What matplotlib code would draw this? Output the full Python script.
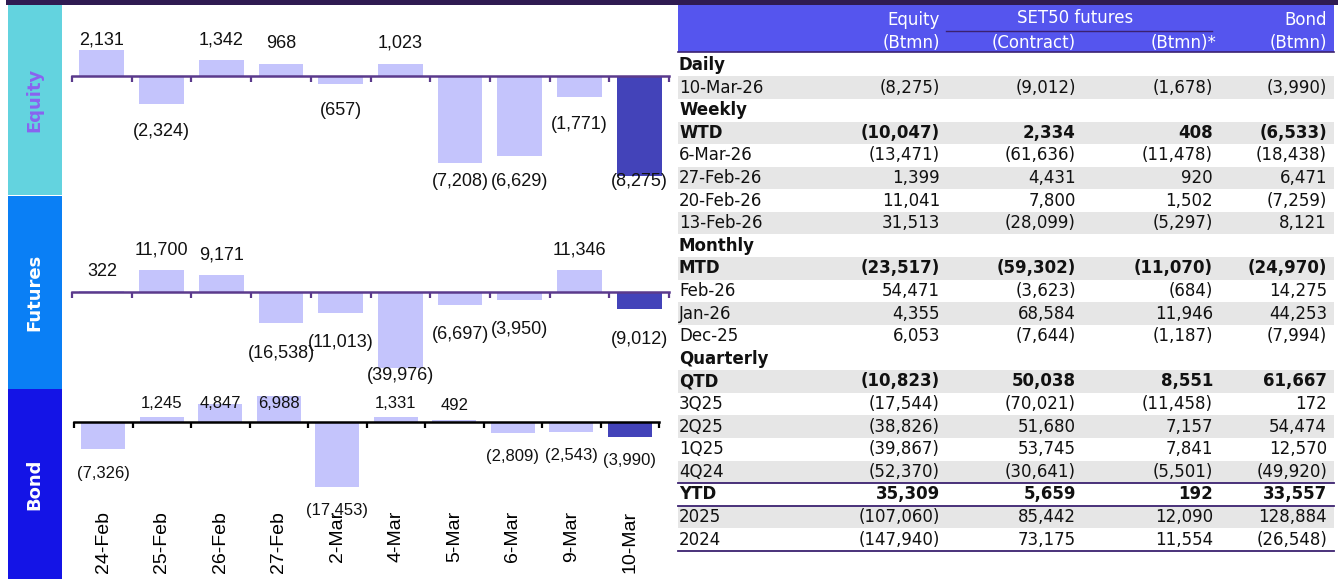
import matplotlib
matplotlib.use("Agg")
import matplotlib.pyplot as plt
from matplotlib.patches import Rectangle

# daily flows shown in the three bar panels
dates = ["24-Feb", "25-Feb", "26-Feb", "27-Feb", "2-Mar", "4-Mar", "5-Mar", "6-Mar", "9-Mar", "10-Mar"]
equity = [2131, -2324, 1342, 968, -657, 1023, -7208, -6629, -1771, -8275]
futures = [322, 11700, 9171, -16538, -11013, -39976, -6697, -3950, 11346, -9012]
bond = [-7326, 1245, 4847, 6988, -17453, 1331, 492, -2809, -2543, -3990]

# summary table
tbl_labels = ["Daily", "10-Mar-26", "Weekly", "WTD", "6-Mar-26", "27-Feb-26", "20-Feb-26", "13-Feb-26",
              "Monthly", "MTD", "Feb-26", "Jan-26", "Dec-25", "Quarterly", "QTD", "3Q25", "2Q25",
              "1Q25", "4Q24", "YTD", "2025", "2024"]
tbl_equity = [None, -8275, None, -10047, -13471, 1399, 11041, 31513, None, -23517, 54471, 4355, 6053,
              None, -10823, -17544, -38826, -39867, -52370, 35309, -107060, -147940]
tbl_contract = [None, -9012, None, 2334, -61636, 4431, 7800, -28099, None, -59302, -3623, 68584, -7644,
                None, 50038, -70021, 51680, 53745, -30641, 5659, 85442, 73175]
tbl_btmn = [None, -1678, None, 408, -11478, 920, 1502, -5297, None, -11070, -684, 11946, -1187,
            None, 8551, -11458, 7157, 7841, -5501, 192, 12090, 11554]
tbl_bond = [None, -3990, None, -6533, -18438, 6471, -7259, 8121, None, -24970, 14275, 44253, -7994,
            None, 61667, 172, 54474, 12570, -49920, 33557, 128884, -26548]
bold_rows = {"Daily", "Weekly", "Monthly", "Quarterly", "WTD", "MTD", "QTD", "YTD"}
shaded_rows = {1, 3, 5, 7, 9, 11, 14, 16, 18, 20}

W, H = 1338, 579
fig = plt.figure(figsize=(W / 100, H / 100), dpi=100)

bg = fig.add_axes([0, 0, 1, 1])
bg.set_xlim(0, W)
bg.set_ylim(H, 0)
bg.axis("off")

dark = "#2f1b52"
line_purple = "#3b2170"
bg.add_patch(Rectangle((6, 0), W - 6, 4.5, color=dark, lw=0))

# side boxes
sides = [("Equity", 5, 195, "#63d3df", "#8a63f0"),
         ("Futures", 196, 389, "#0a7ff5", "white"),
         ("Bond", 389, 579, "#1414e6", "white")]
for name, y0, y1, fc, tc in sides:
    bg.add_patch(Rectangle((8, y0), 54, y1 - y0, color=fc, lw=0))
    bg.text(34, (y0 + y1) / 2, name, rotation=90, ha="center", va="center",
            color=tc, fontsize=13, fontweight="bold", family="DejaVu Sans")


def fmt(v):
    return f"({abs(v):,})" if v < 0 else f"{v:,}"


def px_axes(x0, y0, x1, y1):
    return fig.add_axes([x0 / W, 1 - y1 / H, (x1 - x0) / W, (y1 - y0) / H])


# panel layout: values, y0, y1, axis y, px per unit, x0, x1, axis colour, label offsets/clamps, font size
panels = [
    (equity, 5, 195, 76, 0.0121, 72, 669, "#5b3a8c", 21, 27, 40, 181, 13),
    (futures, 196, 388, 292, 0.0019, 72, 669, "#5b3a8c", 20, 30, 0, 375, 13),
    (bond, 390, 579, 422, 0.00375, 74, 659, "black", 15, 24, 403, 510, 12),
]
light, darkbar = "#c4c4fc", "#4343b9"
for i, (vals, y0, y1, ay, sc, x0, x1, lc, poff, noff, tclamp, bclamp, fs) in enumerate(panels):
    ax = px_axes(x0, y0, x1, y1)
    ax.patch.set_alpha(0)
    ax.set_xlim(-0.5, len(vals) - 0.5)
    ax.set_ylim(-(y1 - ay) / sc, (ay - y0) / sc)
    colors = [light] * (len(vals) - 1) + [darkbar]
    ax.bar(range(len(vals)), vals, width=0.75, color=colors, zorder=2)
    for s in ("top", "right", "left"):
        ax.spines[s].set_visible(False)
    ax.spines["bottom"].set_position(("data", 0))
    ax.spines["bottom"].set_color(lc)
    ax.spines["bottom"].set_linewidth(1.8)
    ax.spines["bottom"].set_zorder(3)
    ax.set_yticks([])
    ax.set_xticks([k - 0.5 for k in range(len(vals) + 1)], minor=True)
    ax.tick_params(axis="x", which="minor", length=4, width=1.6, color=lc, direction="out")
    ax.set_xticks(range(len(vals)))
    if i == 2:
        ax.set_xticklabels(dates, rotation=90, va="top", ha="center",
                           fontsize=14, family="Liberation Sans")
        ax.tick_params(axis="x", which="major", length=0, pad=64)
    else:
        ax.set_xticklabels([])
        ax.tick_params(axis="x", which="major", length=0)
    for k, v in enumerate(vals):
        if v >= 0:
            ypx = max(ay - v * sc - poff, tclamp)
        else:
            ypx = min(ay - v * sc + noff, bclamp)
        ax.text(k, (ay - ypx) / sc, fmt(v), ha="center", va="center",
                fontsize=fs, family="Liberation Sans", color="#111111", zorder=4)

# table
tx0, tx1 = 678, 1334
bg.add_patch(Rectangle((tx0, 5), tx1 - tx0, 47, color="#5555ee", lw=0))
bg.plot([tx0, tx1], [52, 52], color=line_purple, lw=1.2)
cols_right = [940, 1076, 1213, 1327]
hfont = dict(color="white", fontsize=12, family="DejaVu Sans")
bg.text(cols_right[0], 20, "Equity", ha="right", va="center", **hfont)
bg.text(cols_right[0], 43, "(Btmn)", ha="right", va="center", **hfont)
bg.text(1075, 18, "SET50 futures", ha="center", va="center", **hfont)
bg.plot([946, 1212], [31, 31], color=line_purple, lw=1)
bg.text(cols_right[1], 43, "(Contract)", ha="right", va="center", **hfont)
bg.text(cols_right[2] + 4, 43, "(Btmn)*", ha="right", va="center", **hfont)
bg.text(cols_right[3], 20, "Bond", ha="right", va="center", **hfont)
bg.text(cols_right[3], 43, "(Btmn)", ha="right", va="center", **hfont)

row_h = 22.6
for r, lab in enumerate(tbl_labels):
    yc = 65 + r * row_h
    if r in shaded_rows:
        bg.add_patch(Rectangle((tx0, yc - row_h / 2), tx1 - tx0, row_h, color="#e6e6e6", lw=0))
    wt = "bold" if lab in bold_rows else "normal"
    bg.text(679, yc, lab, ha="left", va="center", fontsize=12, fontweight=wt,
            family="DejaVu Sans", color="#111111")
    for xr, col in zip(cols_right, (tbl_equity, tbl_contract, tbl_btmn, tbl_bond)):
        if col[r] is not None:
            bg.text(xr, yc, fmt(col[r]), ha="right", va="center", fontsize=12, fontweight=wt,
                    family="DejaVu Sans", color="#111111")

ytd = tbl_labels.index("YTD")
for yl in (65 + (ytd - 0.5) * row_h, 65 + (ytd + 0.5) * row_h, 65 + (len(tbl_labels) - 0.5) * row_h):
    bg.plot([tx0, tx1], [yl, yl], color=line_purple, lw=1.3)

fig.savefig("out.png", dpi=100)
